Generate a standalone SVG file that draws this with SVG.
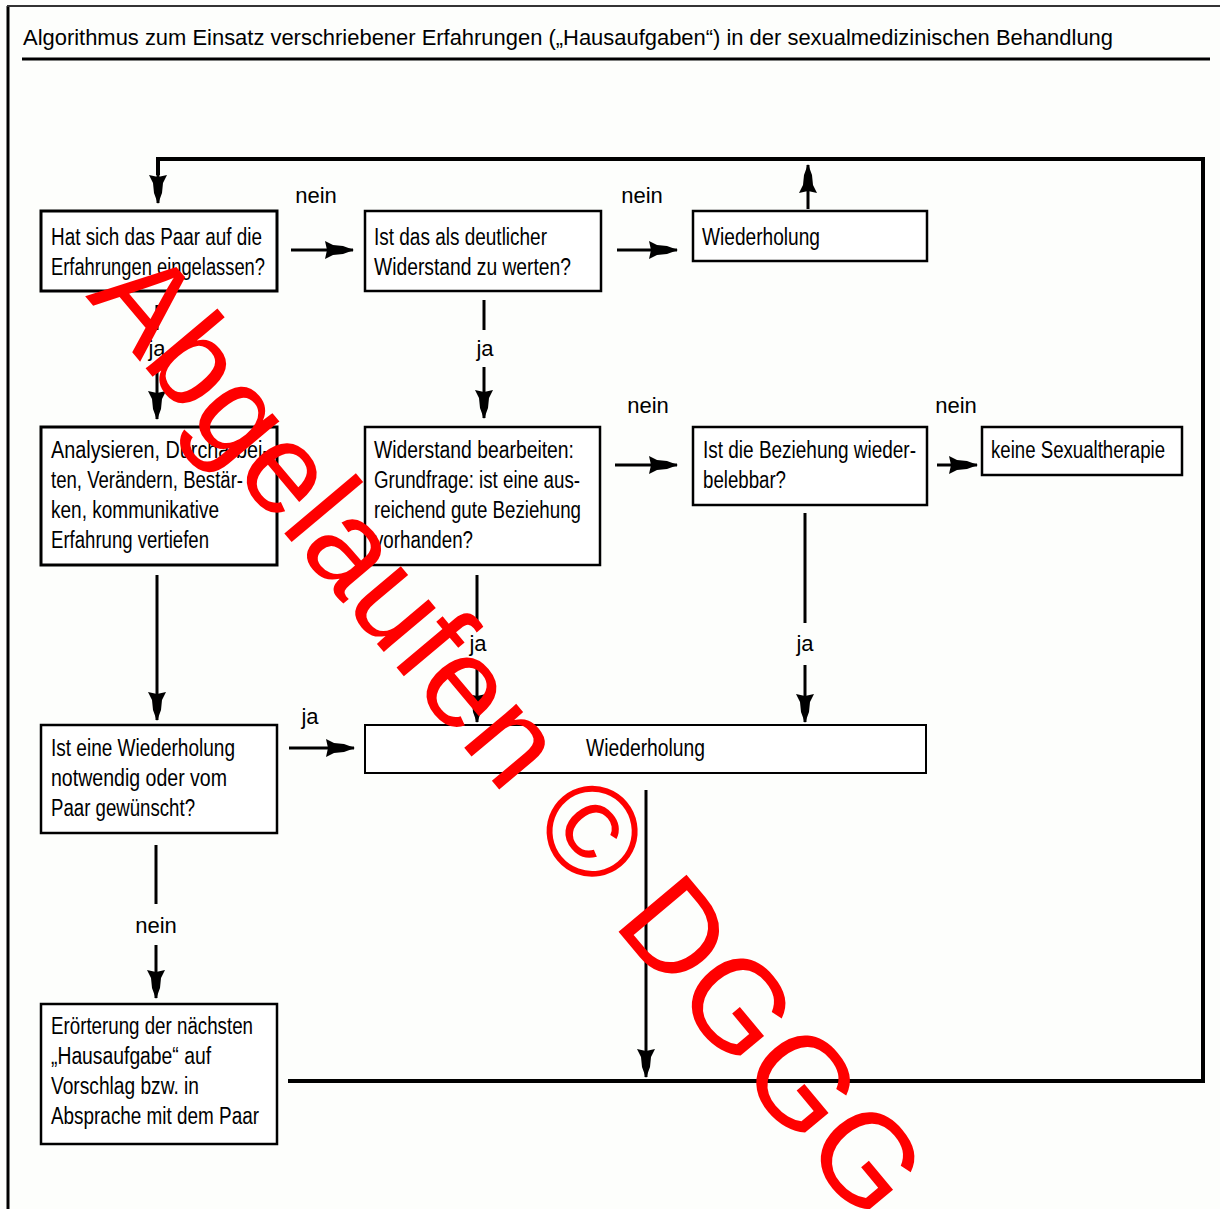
<svg xmlns="http://www.w3.org/2000/svg" width="1220" height="1209" viewBox="0 0 1220 1209">
<defs>
<marker id="ah" markerUnits="userSpaceOnUse" orient="auto" markerWidth="32" markerHeight="22" refX="0" refY="0" viewBox="-30 -11 32 22" overflow="visible">
<path d="M1,0 L-10,-4 L-20,-5 L-28,-9 L-26,0 L-28,9 L-20,5 L-10,4 Z" fill="#000"/>
</marker>
<style>
.bx{fill:#fff;stroke:#000}
.t{font-family:"Liberation Sans",Arial,sans-serif;font-size:23px;fill:#000}
.lb{font-family:"Liberation Sans",Arial,sans-serif;font-size:22px;fill:#000;text-anchor:middle}
.c{stroke:#000;stroke-width:3;fill:none}
.a{stroke:#000;stroke-width:3;fill:none;marker-end:url(#ah)}
.loop{stroke:#000;stroke-width:4;fill:none}
.wm{font-family:"Liberation Sans",Arial,sans-serif;font-size:129px;fill:#ff0000}
</style>
</defs>
<rect width="1220" height="1209" fill="#fdfefc"/>
<g id="frame">
<line x1="8" y1="6" x2="8" y2="1209" stroke="#000" stroke-width="3"/>
<line x1="7" y1="6" x2="1220" y2="6" stroke="#333" stroke-width="2"/>
<line x1="22" y1="59" x2="1210" y2="59" stroke="#000" stroke-width="3"/>
<text x="23" y="45" font-family="Liberation Sans,Arial,sans-serif" font-size="22" textLength="1090" lengthAdjust="spacingAndGlyphs">Algorithmus zum Einsatz verschriebener Erfahrungen („Hausaufgaben“) in der sexualmedizinischen Behandlung</text>
</g>
<g id="connectors">
<polyline class="loop" points="288,1081 1203,1081 1203,159 158,159 158,175"/>
<line class="a" x1="158" y1="170" x2="158" y2="203"/>
<line class="a" x1="808" y1="209" x2="808" y2="165"/>
<line class="a" x1="291" y1="250" x2="353" y2="250"/>
<line class="a" x1="617" y1="250" x2="677" y2="250"/>
<line class="c" x1="157" y1="305" x2="157" y2="330"/>
<line class="a" x1="157" y1="367" x2="157" y2="419"/>
<line class="c" x1="484" y1="300" x2="484" y2="330"/>
<line class="a" x1="484" y1="367" x2="484" y2="418"/>
<line class="a" x1="615" y1="465" x2="677" y2="465"/>
<line class="a" x1="937" y1="465" x2="977" y2="465"/>
<line class="c" x1="805" y1="513" x2="805" y2="623"/>
<line class="a" x1="805" y1="665" x2="805" y2="722"/>
<line class="c" x1="477" y1="575" x2="477" y2="623"/>
<line class="a" x1="477" y1="662" x2="477" y2="722"/>
<line class="a" x1="157" y1="575" x2="157" y2="720"/>
<line class="a" x1="289" y1="748" x2="354" y2="748"/>
<line class="c" x1="156" y1="845" x2="156" y2="904"/>
<line class="a" x1="156" y1="945" x2="156" y2="998"/>
<line class="a" x1="646" y1="790" x2="646" y2="1077"/>
<text class="lb" x="316" y="203">nein</text>
<text class="lb" x="642" y="203">nein</text>
<text class="lb" x="157" y="356">ja</text>
<text class="lb" x="485" y="356">ja</text>
<text class="lb" x="648" y="413">nein</text>
<text class="lb" x="956" y="413">nein</text>
<text class="lb" x="478" y="651">ja</text>
<text class="lb" x="805" y="651">ja</text>
<text class="lb" x="310" y="724">ja</text>
<text class="lb" x="156" y="933">nein</text>
</g>
<g id="n1">
<rect class="bx" x="41" y="211" width="236" height="80" stroke-width="3"/>
<text class="t" x="51" y="245" textLength="211" lengthAdjust="spacingAndGlyphs">Hat sich das Paar auf die</text>
<text class="t" x="51" y="275" textLength="214" lengthAdjust="spacingAndGlyphs">Erfahrungen eingelassen?</text>
</g>
<g id="n2">
<rect class="bx" x="365" y="211" width="236" height="80" stroke-width="2.5"/>
<text class="t" x="374" y="245" textLength="173" lengthAdjust="spacingAndGlyphs">Ist das als deutlicher</text>
<text class="t" x="374" y="275" textLength="197" lengthAdjust="spacingAndGlyphs">Widerstand zu werten?</text>
</g>
<g id="n3">
<rect class="bx" x="693" y="211" width="234" height="50" stroke-width="2.5"/>
<text class="t" x="702" y="245" textLength="118" lengthAdjust="spacingAndGlyphs">Wiederholung</text>
</g>
<g id="n4">
<rect class="bx" x="41" y="427" width="236" height="138" stroke-width="3"/>
<text class="t" x="51" y="458" textLength="218" lengthAdjust="spacingAndGlyphs">Analysieren, Durcharbei-</text>
<text class="t" x="51" y="488" textLength="192" lengthAdjust="spacingAndGlyphs">ten, Verändern, Bestär-</text>
<text class="t" x="51" y="518" textLength="168" lengthAdjust="spacingAndGlyphs">ken, kommunikative</text>
<text class="t" x="51" y="548" textLength="158" lengthAdjust="spacingAndGlyphs">Erfahrung vertiefen</text>
</g>
<g id="n5">
<rect class="bx" x="365" y="427" width="235" height="138" stroke-width="2.5"/>
<text class="t" x="374" y="458" textLength="200" lengthAdjust="spacingAndGlyphs">Widerstand bearbeiten:</text>
<text class="t" x="374" y="488" textLength="206" lengthAdjust="spacingAndGlyphs">Grundfrage: ist eine aus-</text>
<text class="t" x="374" y="518" textLength="207" lengthAdjust="spacingAndGlyphs">reichend gute Beziehung</text>
<text class="t" x="374" y="548" textLength="99" lengthAdjust="spacingAndGlyphs">vorhanden?</text>
</g>
<g id="n6">
<rect class="bx" x="693" y="427" width="234" height="78" stroke-width="2.5"/>
<text class="t" x="703" y="458" textLength="213" lengthAdjust="spacingAndGlyphs">Ist die Beziehung wieder-</text>
<text class="t" x="703" y="488" textLength="83" lengthAdjust="spacingAndGlyphs">belebbar?</text>
</g>
<g id="n7">
<rect class="bx" x="982" y="427" width="200" height="48" stroke-width="2.5"/>
<text class="t" x="991" y="458" textLength="174" lengthAdjust="spacingAndGlyphs">keine Sexualtherapie</text>
</g>
<g id="n8">
<rect class="bx" x="41" y="725" width="236" height="108" stroke-width="2.5"/>
<text class="t" x="51" y="756" textLength="184" lengthAdjust="spacingAndGlyphs">Ist eine Wiederholung</text>
<text class="t" x="51" y="786" textLength="176" lengthAdjust="spacingAndGlyphs">notwendig oder vom</text>
<text class="t" x="51" y="816" textLength="144" lengthAdjust="spacingAndGlyphs">Paar gewünscht?</text>
</g>
<g id="n9">
<rect class="bx" x="365" y="725" width="561" height="48" stroke-width="2"/>
<text class="t" x="586" y="756" textLength="119" lengthAdjust="spacingAndGlyphs">Wiederholung</text>
</g>
<g id="n10">
<rect class="bx" x="41" y="1004" width="236" height="140" stroke-width="2.5"/>
<text class="t" x="51" y="1034" textLength="202" lengthAdjust="spacingAndGlyphs">Erörterung der nächsten</text>
<text class="t" x="51" y="1064" textLength="160" lengthAdjust="spacingAndGlyphs">„Hausaufgabe“ auf</text>
<text class="t" x="51" y="1094" textLength="148" lengthAdjust="spacingAndGlyphs">Vorschlag bzw. in</text>
<text class="t" x="51" y="1124" textLength="208" lengthAdjust="spacingAndGlyphs">Absprache mit dem Paar</text>
</g>
<g id="watermark">
<text class="wm" transform="translate(85,296) rotate(50)">Abgelaufen © DGGG 2</text>
</g>
</svg>
